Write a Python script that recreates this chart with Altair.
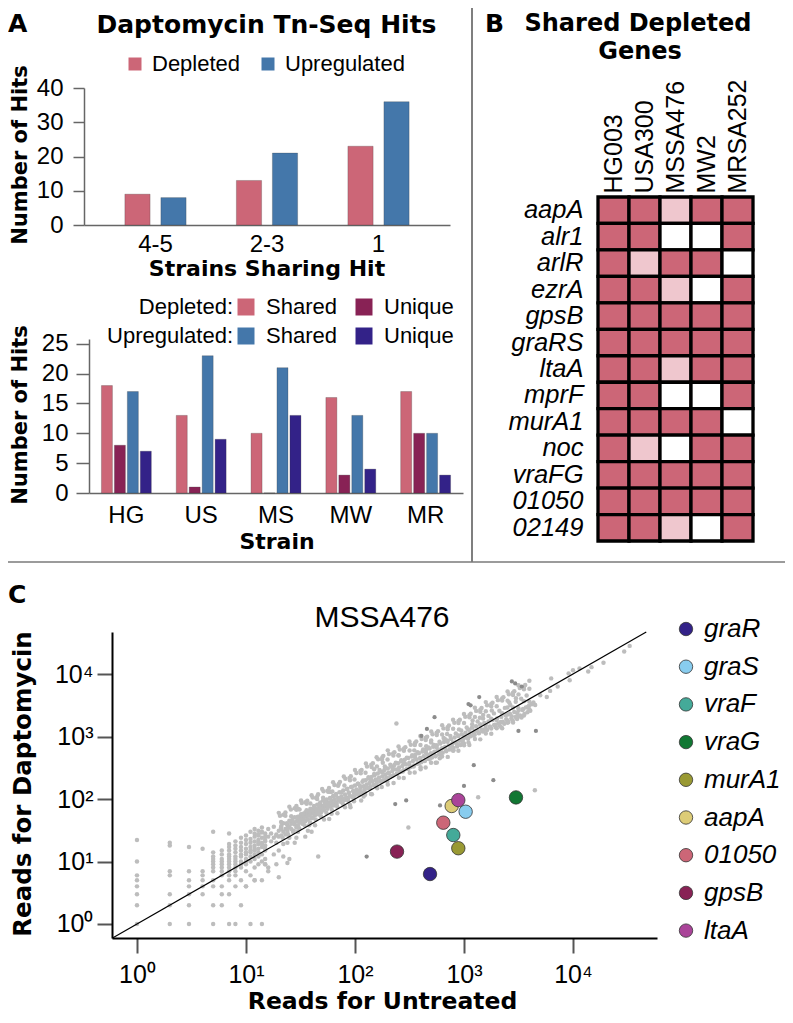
import altair as alt
import pandas as pd

W, H = 777, 1007
SANS = "Liberation Sans"
BOLD = "DejaVu Sans"

# ---------------- Panel A (top): hits by number of strains sharing them
share_groups = ["4-5", "2-3", "1"]
hits_depleted = [9, 13, 23]
hits_upregulated = [8, 21, 36]

# ---------------- Panel A (bottom): hits per strain
strain_codes = ["HG", "US", "MS", "MW", "MR"]
dep_shared = [18, 13, 10, 16, 17]
dep_unique = [8, 1, 0, 3, 10]
up_shared = [17, 23, 21, 13, 10]
up_unique = [7, 9, 13, 4, 3]
strain_cats = ["Depleted Shared", "Depleted Unique", "Upregulated Shared", "Upregulated Unique"]
strain_cat_colors = ["#CC6677", "#882255", "#4477AA", "#332288"]

# ---------------- Panel B: shared depleted genes (2 = depleted, 1 = weak, 0 = not)
strains_full = ["HG003", "USA300", "MSSA476", "MW2", "MRSA252"]
genes = ["aapA", "alr1", "arlR", "ezrA", "gpsB", "graRS", "ltaA", "mprF",
         "murA1", "noc", "vraFG", "01050", "02149"]
lvl_HG003 = [2, 2, 2, 2, 2, 2, 2, 2, 2, 2, 2, 2, 2]
lvl_USA300 = [2, 2, 1, 2, 2, 2, 2, 2, 2, 1, 2, 2, 2]
lvl_MSSA476 = [1, 0, 2, 1, 2, 2, 1, 0, 2, 0, 2, 2, 1]
lvl_MW2 = [2, 0, 2, 0, 2, 2, 2, 0, 2, 2, 2, 2, 0]
lvl_MRSA252 = [2, 2, 0, 2, 2, 2, 2, 2, 0, 2, 2, 2, 2]

# ---------------- Panel C: MSSA476 reads
hl_genes = ["graR", "graS", "vraF", "vraG", "murA1", "aapA", "01050", "gpsB", "ltaA"]
hl_untreated = [488, 1036, 798, 3000, 887, 771, 646, 243, 887]
hl_dapto = [6.3, 62.6, 26.5, 106, 16.3, 77.3, 41.8, 14.4, 96]
hl_colors = ["#332288", "#88CCEE", "#44AA99", "#117733", "#999933",
             "#DDCC77", "#CC6677", "#882255", "#AA4499"]

# low-count genes: untreated reads -> list of daptomycin reads
bg_low = {
    1: [1, 2, 3, 4, 5, 6, 10, 22],
    2: [1, 2, 3, 6, 7, 18, 20],
    3: [1, 2, 3, 4, 5, 7, 17],
    4: [3, 4, 5, 6, 7, 16],
    5: [1, 2, 4, 5, 7, 8, 9, 10, 11, 12, 14, 30],
    6: [2, 3, 4, 6, 7, 8, 9, 10, 11, 13, 15],
    7: [1, 3, 5, 6, 7, 8, 9, 10, 11, 12, 13, 15, 17, 19, 28],
    8: [1, 4, 6, 7, 8, 9, 10, 11, 12, 14, 16, 18, 21],
    9: [2, 5, 8, 9, 10, 12, 13, 15, 17, 20, 24],
    10: [4, 7, 9, 10, 11, 13, 14, 16, 19, 22, 26],
    11: [1, 6, 10, 12, 14, 15, 17, 20, 23, 30],
    12: [5, 8, 11, 13, 15, 16, 18, 21, 25, 28, 33],
    13: [9, 12, 14, 16, 19, 22, 26, 31],
    14: [1, 5, 10, 13, 17, 20, 24, 29, 35],
    15: [9, 11, 15, 18, 21, 25, 28],
}
bg_band_a = [(13, 20), (13, 27), (14, 19), (14, 30), (15, 22), (15, 16), (16, 25), (16, 33),
             (17, 21), (17, 28), (18, 24), (18, 36), (19, 27), (19, 20), (20, 31), (20, 25),
             (21, 35), (21, 26), (22, 30), (22, 41), (23, 33), (23, 27), (24, 38), (24, 30),
             (25, 36), (25, 45), (26, 33), (26, 40), (27, 43), (27, 30), (28, 39), (28, 51),
             (29, 44), (29, 35), (30, 47), (30, 38), (31, 52), (31, 42), (32, 46), (32, 57),
             (16, 7), (20, 5.6), (24, 9.5), (46, 12), (10, 4), (12, 5), (16, 8), (19, 9),
             (22, 12), (25, 11), (18, 13), (20, 15), (28, 20), (35, 25), (40, 30), (15, 9)]
bg_band_b = [(33, 50), (33, 40), (34, 55), (34, 47), (35, 61), (35, 44), (36, 52), (36, 66),
             (37, 58), (37, 47), (38, 63), (38, 54), (39, 70), (40, 58), (40, 49), (41, 66),
             (42, 60), (42, 77), (43, 55), (44, 70), (44, 62), (45, 81), (46, 66), (46, 57),
             (47, 75), (48, 69), (48, 88), (49, 62), (50, 78), (51, 71), (51, 95), (52, 66),
             (53, 84), (54, 76), (55, 98), (56, 70), (57, 88), (58, 80), (59, 104), (60, 75),
             (61, 93), (62, 85), (63, 112), (64, 79), (65, 99), (66, 90), (67, 120), (68, 84),
             (70, 104), (71, 95), (72, 128), (74, 90), (75, 110), (77, 100), (78, 137), (80, 96),
             (81, 118), (83, 107), (85, 146), (86, 102), (88, 126), (90, 113), (92, 155), (94, 108),
             (96, 134), (98, 121), (100, 165), (100, 116), (90, 80), (60, 130), (45, 100), (30, 70)]
bg_band_c = [(103, 142), (105, 128), (107, 176), (110, 135), (112, 150), (115, 128), (117, 188),
             (120, 160), (122, 142), (125, 200), (128, 170), (130, 150), (133, 212), (136, 181),
             (139, 158), (142, 226), (145, 192), (148, 168), (151, 240), (155, 205), (158, 178),
             (162, 256), (166, 218), (170, 190), (174, 272), (178, 232), (182, 200), (186, 290),
             (190, 246), (195, 214), (200, 308), (205, 262), (210, 226), (215, 330), (220, 280),
             (225, 240), (230, 350), (236, 298), (242, 255), (248, 374), (254, 318), (260, 270),
             (266, 398), (272, 338), (279, 288), (286, 424), (293, 360), (300, 306), (308, 452),
             (316, 382), (120, 110), (150, 300), (180, 380), (200, 170), (250, 500), (140, 120),
             (240, 1620), (309, 35)]
bg_band_d = [(324, 325), (332, 480), (340, 405), (349, 345), (358, 510), (367, 430), (376, 365),
             (386, 540), (396, 455), (406, 388), (416, 575), (427, 482), (438, 410), (449, 610),
             (460, 510), (472, 435), (484, 645), (496, 540), (509, 460), (522, 685), (535, 572),
             (549, 488), (563, 725), (577, 605), (592, 518), (607, 770), (622, 640), (638, 550),
             (654, 815), (671, 678), (688, 582), (706, 862), (724, 718), (742, 617), (761, 912),
             (781, 760), (801, 654), (821, 966), (842, 805), (864, 692), (886, 1022), (908, 852),
             (931, 733), (955, 1082), (980, 902), (1000, 776), (400, 300), (500, 800), (600, 450),
             (700, 1100), (800, 600), (900, 1300), (450, 700), (350, 600), (550, 380), (650, 950)]
bg_band_e = [(1030, 1145), (1060, 955), (1090, 1300), (1120, 1090), (1150, 1010), (1185, 1380),
             (1220, 1150), (1255, 1070), (1290, 1460), (1330, 1220), (1370, 1130), (1410, 1545),
             (1450, 1290), (1490, 1200), (1535, 1640), (1580, 1365), (1630, 1270), (1680, 1735),
             (1730, 1445), (1780, 1345), (1830, 1840), (1890, 1530), (1950, 1420), (2010, 1950),
             (2070, 1620), (2130, 1505), (2200, 2060), (2270, 1720), (2340, 1600), (2410, 2190),
             (2480, 1820), (2560, 1700), (2640, 2320), (2720, 1930), (2800, 1800), (2890, 2460),
             (2980, 2050), (3070, 1910), (3170, 2600), (3270, 2170), (3370, 2020), (3480, 2760),
             (3590, 2300), (3700, 2900), (3820, 2440), (3940, 3080), (4060, 2590), (4200, 3270),
             (4340, 3500), (4500, 3200), (1200, 1800), (1500, 2200), (1800, 2600), (2200, 1400),
             (2600, 3500), (3000, 4100), (1100, 800), (1400, 2000), (2500, 2900),
             (4470, 138), (1350, 107)]
# outer parts of the main band (upper and lower edges)
bg_edges_even = [(20, 60), (21, 43), (19, 26), (22, 19), (25, 75), (26, 53), (24, 33), (25, 24),
                 (32, 95), (31, 68), (33, 41), (30, 30), (40, 115), (39, 85), (41, 50), (38, 38),
                 (50, 145), (51, 105), (49, 63), (52, 47), (63, 185), (62, 132), (64, 80), (61, 58),
                 (79, 230), (80, 165), (78, 100), (81, 74), (100, 290), (99, 205), (101, 125),
                 (98, 92), (126, 370), (125, 262), (127, 160), (124, 117), (158, 465), (159, 330),
                 (157, 200), (160, 148), (200, 600), (199, 430), (201, 258), (198, 190),
                 (251, 690), (252, 495), (250, 295), (253, 218), (316, 830), (317, 595), (315, 355),
                 (318, 262), (398, 1020), (399, 730), (397, 440), (400, 322), (501, 1200),
                 (500, 860), (502, 515), (499, 380), (631, 1510), (630, 1080), (632, 650),
                 (629, 480), (794, 1860), (795, 1330), (793, 800), (796, 590), (1000, 2290),
                 (1001, 1640), (999, 985), (1002, 725), (1259, 2880), (1260, 2060), (1258, 1240),
                 (1261, 910), (1585, 3550), (1586, 2540), (1584, 1525), (1587, 1120), (1995, 4270),
                 (1996, 3050), (1994, 1830), (1997, 1350), (2512, 5250), (2513, 3750), (2511, 2250),
                 (2514, 1660), (3162, 6600), (3163, 4720), (3161, 2830), (3164, 2085),
                 (3981, 7800), (3980, 5800), (3982, 3600), (3979, 2700)]
bg_edges_odd = [(22, 56), (23, 54), (21, 33), (24, 20), (28, 71), (29, 67), (27, 41), (29, 24),
                (35, 89), (36, 84), (34, 53), (37, 31), (45, 110), (44, 104), (46, 64), (43, 38),
                (56, 136), (57, 130), (55, 80), (58, 48), (71, 174), (70, 163), (72, 102), (69, 59),
                (89, 217), (90, 200), (88, 126), (91, 74), (112, 280), (113, 258), (111, 163),
                (114, 95), (141, 353), (142, 325), (140, 205), (143, 119), (178, 463), (177, 429),
                (179, 270), (176, 155), (224, 535), (225, 495), (223, 310), (226, 180),
                (282, 646), (281, 594), (283, 374), (280, 216), (355, 790), (354, 731), (356, 460),
                (353, 265), (447, 952), (446, 880), (448, 552), (445, 320), (562, 1148),
                (563, 1060), (561, 667), (564, 382), (708, 1411), (709, 1309), (707, 822),
                (710, 472), (891, 1776), (890, 1644), (892, 1035), (889, 594), (1122, 2184),
                (1121, 2024), (1123, 1270), (1120, 729), (1413, 2686), (1412, 2486), (1414, 1564),
                (1411, 900), (1778, 3306), (1779, 3058), (1777, 1920), (1780, 1107), (2239, 4071),
                (2240, 3762), (2238, 2363), (2241, 1359), (2818, 5006), (2819, 4631), (2817, 2904),
                (2820, 1674), (3548, 5990), (3549, 5720), (3547, 3680), (3550, 2160)]
# dense core of the main band
bg_core = [(20.5, 54), (21.1, 37), (21.7, 24), (23.0, 61), (23.7, 41), (24.4, 27),
           (25.8, 68), (26.6, 46), (27.4, 31), (29.0, 77), (29.9, 52), (30.8, 34),
           (32.5, 86), (33.5, 58), (34.5, 38), (36.5, 94), (37.6, 64), (38.7, 42),
           (40.9, 106), (42.2, 72), (43.5, 47), (45.9, 119), (47.3, 80), (48.7, 53),
           (51.5, 133), (53.1, 90), (54.7, 60), (57.8, 150), (59.6, 101), (61.4, 67),
           (64.8, 168), (66.8, 114), (68.8, 75), (72.8, 188), (75.0, 127), (77.3, 84),
           (81.6, 211), (84.1, 143), (86.6, 94), (91.6, 232), (94.4, 157), (97.2, 104),
           (103, 260), (106, 176), (109, 116), (115, 292), (119, 197), (123, 130),
           (129, 331), (133, 224), (137, 148), (146, 372), (150, 251), (155, 166),
           (163, 431), (168, 292), (173, 193), (182, 490), (188, 331), (194, 219),
           (205, 525), (211, 355), (217, 234), (230, 562), (237, 380), (244, 251),
           (258, 617), (266, 417), (274, 275), (290, 676), (299, 457), (308, 302),
           (325, 741), (335, 501), (345, 331), (365, 832), (376, 562), (387, 372),
           (409, 912), (422, 617), (435, 407), (459, 989), (473, 668), (487, 442),
           (515, 1084), (531, 733), (547, 484), (578, 1216), (596, 822), (614, 543),
           (648, 1349), (668, 912), (688, 603), (728, 1503), (750, 1016), (773, 671),
           (816, 1660), (841, 1122), (866, 741), (916, 1849), (944, 1250), (972, 826),
           (1027, 2065), (1059, 1396), (1091, 923), (1153, 2317), (1189, 1567), (1225, 1035),
           (1294, 2570), (1334, 1738), (1374, 1148), (1451, 2864), (1496, 1936), (1541, 1279),
           (1629, 3162), (1679, 2138), (1729, 1413), (1827, 3467), (1884, 2344), (1941, 1549),
           (2050, 3819), (2113, 2582), (2176, 1706), (2300, 4246), (2371, 2871), (2442, 1897),
           (2581, 4732), (2661, 3199), (2741, 2113), (2895, 5309), (2985, 3589), (3075, 2371),
           (3250, 5957), (3350, 4027), (3450, 2661), (3645, 6683), (3758, 4519), (3871, 2985)]
bg_high = [(6310, 8510), (7240, 6310), (9120, 10230), (10000, 11480), (5750, 4270),
           (19050, 15140), (29510, 22910), (33110, 28180), (11480, 12300), (13800, 10960),
           (14790, 12880), (6170, 5370), (5010, 4570), (9330, 7940)]
# significant (dark grey) genes that are not highlighted
sig_points = [(2750, 7590), (2950, 7080), (3390, 6310), (1380, 4270), (1150, 3160), (1100, 3310),
              (537, 2040), (457, 1320), (407, 1020), (1230, 347), (1000, 162), (1860, 200),
              (3160, 1230), (4570, 1230), (295, 95), (234, 83), (128, 12), (603, 79)]
diag_reads = [0.597, 47000]

# ---------------- data frames
dfA1 = pd.DataFrame({
    "group": share_groups * 2,
    "type": ["Depleted"] * 3 + ["Upregulated"] * 3,
    "hits": hits_depleted + hits_upregulated,
})
rowsA2 = []
for i, s in enumerate(strain_codes):
    for cat, vals in zip(strain_cats, [dep_shared, dep_unique, up_shared, up_unique]):
        rowsA2.append({"strain": s, "cat": cat, "hits": vals[i]})
dfA2 = pd.DataFrame(rowsA2)

rowsB = []
for s, lv in zip(strains_full, [lvl_HG003, lvl_USA300, lvl_MSSA476, lvl_MW2, lvl_MRSA252]):
    for g, v in zip(genes, lv):
        rowsB.append({"strain": s, "gene": g, "level": v})
dfB = pd.DataFrame(rowsB)

bg_pairs = [(u, d) for u, ds in bg_low.items() for d in ds]
bg_pairs += (bg_band_a + bg_band_b + bg_band_c + bg_band_d + bg_band_e
             + bg_edges_even + bg_edges_odd + bg_core + bg_high)
dfBG = pd.DataFrame(bg_pairs, columns=["u", "d"])
dfSig = pd.DataFrame(sig_points, columns=["u", "d"])
dfDiag = pd.DataFrame({"u": diag_reads, "d": diag_reads})
dfHL = pd.DataFrame({"gene": hl_genes, "u": hl_untreated, "d": hl_dapto})

ONE = alt.Data(values=[{}])


def txt(s, x, y, size, font=SANS, weight="normal", style="normal", align="center",
        baseline="alphabetic", angle=0):
    return alt.Chart(ONE).mark_text(
        text=s, font=font, fontSize=size, fontWeight=weight, fontStyle=style,
        align=align, baseline=baseline, angle=angle, color="black",
    ).encode(x=alt.value(x), y=alt.value(y))


# ---------------- dividers
rule_v = alt.Chart(ONE).mark_rule(color="#555555", strokeWidth=1.5).encode(
    x=alt.value(464), y=alt.value(0), y2=alt.value(554))
rule_h = alt.Chart(ONE).mark_rule(color="#7a7a7a", strokeWidth=1.5).encode(
    x=alt.value(0), x2=alt.value(777), y=alt.value(554))

axA = dict(domainColor="#666666", domainWidth=1.5, tickColor="#666666", tickWidth=1.5,
           labelColor="black", labelFont=SANS, labelFontSize=24, grid=False, title=None)

# ---------------- Panel A top
a1 = alt.Chart(dfA1).mark_bar(stroke="#333333", strokeWidth=0.5, strokeOpacity=0.5).encode(
    x=alt.X("group:N", sort=share_groups,
            scale=alt.Scale(range=[76, 442], paddingInner=0.354, paddingOuter=0.318),
            axis=alt.Axis(orient="bottom", offset=217 - H, ticks=False, labelAngle=0,
                          labelPadding=7, **axA)),
    xOffset=alt.XOffset("type:N", scale=alt.Scale(paddingInner=0.3, paddingOuter=0.15)),
    y=alt.Y("hits:Q", scale=alt.Scale(domain=[0, 40], range=[217, 80], nice=False),
            axis=alt.Axis(orient="left", offset=-76, values=[0, 10, 20, 30, 40], tickSize=11,
                          labelPadding=10, **axA)),
    color=alt.Color("type:N",
                    scale=alt.Scale(domain=["Depleted", "Upregulated"], range=["#CC6677", "#4477AA"]),
                    legend=alt.Legend(orient="none", legendX=116, legendY=45, direction="horizontal",
                                      title=None, symbolType="square", symbolSize=169,
                                      symbolStrokeWidth=0, labelFontSize=22, labelFont=SANS,
                                      labelColor="black", labelOffset=6, columnPadding=16,
                                      padding=0, offset=0)),
)

# ---------------- Panel A bottom
a2 = alt.Chart(dfA2).mark_bar(stroke="#333333", strokeWidth=0.5, strokeOpacity=0.5).encode(
    x=alt.X("strain:N", sort=strain_codes,
            scale=alt.Scale(range=[81, 455], paddingInner=0.307, paddingOuter=0.153),
            axis=alt.Axis(orient="bottom", offset=485 - H, ticks=False, labelAngle=0,
                          labelPadding=10, **axA)),
    xOffset=alt.XOffset("cat:N", sort=strain_cats,
                        scale=alt.Scale(paddingInner=0.15, paddingOuter=0.075)),
    y=alt.Y("hits:Q", scale=alt.Scale(domain=[0, 25.8], range=[485, 331], nice=False),
            axis=alt.Axis(orient="left", offset=-81, values=[0, 5, 10, 15, 20, 25], tickSize=13,
                          labelPadding=8, **axA)),
    color=alt.Color("cat:N",
                    scale=alt.Scale(domain=strain_cats, range=strain_cat_colors),
                    legend=alt.Legend(orient="none", legendX=227, legendY=288, columns=2,
                                      direction="horizontal",
                                      title=None, symbolType="square", symbolSize=289,
                                      symbolStrokeWidth=0, labelFontSize=22, labelFont=SANS,
                                      labelColor="black", labelOffset=9, columnPadding=16,
                                      rowPadding=7, padding=0, offset=0,
                                      labelExpr="split(datum.label, ' ')[1]")),
)

# ---------------- Panel B heatmap
b = alt.Chart(dfB).mark_rect(stroke="black", strokeWidth=3.3).encode(
    x=alt.X("strain:N", sort=strains_full,
            scale=alt.Scale(range=[590, 745], paddingInner=0, paddingOuter=0),
            axis=alt.Axis(orient="top", offset=-189, ticks=False, domain=False, labelAngle=270,
                          labelAlign="left", labelBaseline="middle", labelPadding=4,
                          labelFont=SANS, labelFontSize=25, labelColor="black", title=None)),
    y=alt.Y("gene:N", sort=genes,
            scale=alt.Scale(range=[189, 533], paddingInner=0, paddingOuter=0),
            axis=alt.Axis(orient="left", offset=-590, ticks=False, domain=False,
                          labelPadding=15, labelFont=SANS, labelFontSize=25.5,
                          labelFontStyle="italic", labelColor="black", title=None)),
    color=alt.Color("level:O", scale=alt.Scale(domain=[0, 1, 2],
                                               range=["#FFFFFF", "#EFC7CE", "#CC6677"]),
                    legend=None),
)

# ---------------- Panel C scatter
xsc = alt.Scale(type="log", domain=[0.59, 59000], range=[104, 649], nice=False)
ysc = alt.Scale(type="log", domain=[0.597, 47000], range=[930, 624], nice=False)
sup = ("datum.value == 1 ? '10\u2070' : datum.value == 10 ? '10\u00b9' : "
       "datum.value == 100 ? '10\u00b2' : datum.value == 1000 ? '10\u00b3' : '10\u2074'")
axC = dict(values=[1, 10, 100, 1000, 10000], labelExpr=sup, tickSize=15, tickWidth=2,
           tickColor="#555555", domainColor="black", domainWidth=2, labelFont=SANS,
           labelFontSize=25, labelColor="black", grid=False, title=None)

c_bg = alt.Chart(dfBG).mark_circle(size=20, color="#BDBDBD", opacity=1).encode(
    x=alt.X("u:Q", scale=xsc, axis=alt.Axis(orient="bottom", offset=930 - H, labelPadding=9, **axC)),
    y=alt.Y("d:Q", scale=ysc, axis=alt.Axis(orient="left", offset=-104, labelPadding=4, **axC)),
)
c_sig = alt.Chart(dfSig).mark_circle(size=18, color="#8C8C8C", opacity=1).encode(
    x=alt.X("u:Q", scale=xsc, axis=None), y=alt.Y("d:Q", scale=ysc, axis=None))
c_diag = alt.Chart(dfDiag).mark_line(color="black", strokeWidth=1.2).encode(
    x=alt.X("u:Q", scale=xsc, axis=None), y=alt.Y("d:Q", scale=ysc, axis=None))
c_hl = alt.Chart(dfHL).mark_circle(size=180, stroke="#333333", strokeWidth=0.8, opacity=1).encode(
    x=alt.X("u:Q", scale=xsc, axis=None),
    y=alt.Y("d:Q", scale=ysc, axis=None),
    color=alt.Color("gene:N", scale=alt.Scale(domain=hl_genes, range=hl_colors),
                    legend=alt.Legend(orient="none", legendX=665, legendY=608, title=None,
                                      symbolType="circle", symbolSize=180,
                                      symbolStrokeColor="#333333", symbolStrokeWidth=0.8,
                                      labelFont=SANS, labelFontSize=26, labelFontStyle="italic",
                                      labelColor="black", labelOffset=5, rowPadding=11.7,
                                      padding=0, offset=0)),
)

texts = [
    txt("A", 0, 24, 25, font=BOLD, weight="bold", align="left"),
    txt("Daptomycin Tn-Seq Hits", 258.5, 25, 25, font=BOLD, weight="bold"),
    txt("Number of Hits", 13, 147, 21, font=BOLD, weight="bold", angle=270, baseline="middle"),
    txt("Strains Sharing Hit", 259, 268, 22, font=BOLD, weight="bold"),
    txt("Depleted:", 225, 299, 22, align="right", baseline="middle"),
    txt("Upregulated:", 225, 328, 22, align="right", baseline="middle"),
    txt("Number of Hits", 13, 407, 21, font=BOLD, weight="bold", angle=270, baseline="middle"),
    txt("Strain", 269, 541, 22, font=BOLD, weight="bold"),
    txt("B", 477, 24, 25, font=BOLD, weight="bold", align="left"),
    txt("Shared Depleted", 630, 23, 24, font=BOLD, weight="bold"),
    txt("Genes", 632, 51, 24, font=BOLD, weight="bold"),
    txt("C", 0, 595, 25, font=BOLD, weight="bold", align="left"),
    txt("MSSA476", 374, 619, 30),
    txt("Reads for Daptomycin", 16, 776, 24.5, font=BOLD, weight="bold", angle=270,
        baseline="middle"),
    txt("Reads for Untreated", 374.5, 1001, 23.5, font=BOLD, weight="bold"),
]

chart = alt.layer(
    rule_v, rule_h, a1, a2, b, c_bg, c_sig, c_diag, c_hl, *texts
).resolve_scale(
    x="independent", y="independent", color="independent", xOffset="independent"
).resolve_axis(
    x="independent", y="independent"
).resolve_legend(
    color="independent"
).properties(
    width=W, height=H, autosize=alt.AutoSizeParams(type="none"), padding=0
).configure_view(stroke=None)

chart.save("out.html", embed_options={"renderer": "svg", "actions": False})
